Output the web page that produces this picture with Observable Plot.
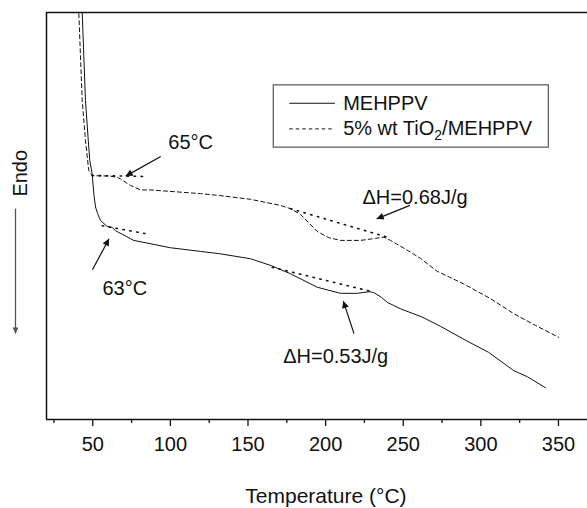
<!DOCTYPE html>
<html>
<head>
<meta charset="utf-8">
<script src="https://cdn.jsdelivr.net/npm/d3@7"></script>
<script src="https://cdn.jsdelivr.net/npm/@observablehq/plot@0.6"></script>
<style>
  html, body { margin: 0; padding: 0; background: #fff; }
  #chart svg { display: block; }
</style>
</head>
<body>
<div id="chart"></div>
<script>
// ---- Data (temperature in °C, heat flow in arbitrary units, endo down) ----
const tempMEHPPV = [41.8, 43.2, 45.3, 47.1, 48.1, 49.6, 50.8, 51.8, 53.1, 55.0, 59.3, 62.5, 64.6, 76.4, 100, 119.4, 132.3, 151.6, 165, 177.4, 194.6, 209.6, 220.3, 228, 231, 236, 239.7, 243.9, 248.2, 262, 274.0, 290, 305, 321.2, 330, 341.6];
const flowMEHPPV = [110, 100, 78.4, 68.6, 63.6, 60.4, 55.0, 52.2, 50.6, 48.9, 47.4, 47.2, 46.4, 44.0, 42.2, 41.3, 40.7, 39.5, 37.8, 35.8, 32.5, 31.0, 31.0, 31.4, 31.2, 30.0, 28.8, 28.0, 27.2, 25.2, 22.9, 19.5, 16.5, 12.0, 10.5, 7.8];

const tempTiO2 = [40.2, 41.0, 43.2, 45.3, 47.4, 49.6, 61.4, 65.7, 67.9, 74.3, 80.8, 87.2, 119.4, 132.3, 151.6, 170.9, 177.4, 183.8, 194.6, 201.9, 209.6, 222.5, 232.1, 237.5, 241.8, 250.4, 261.1, 271.9, 289.0, 306.2, 321.2, 335.2, 350.2];
const flowTiO2 = [110, 100, 78.4, 68.6, 61.2, 59.9, 59.8, 59.5, 59.1, 57.5, 56.4, 56.4, 55.5, 55.0, 54.1, 52.6, 51.8, 50.4, 46.2, 44.7, 44.0, 44.0, 44.5, 44.8, 44.0, 42.1, 39.6, 36.4, 33.3, 29.7, 26.0, 23.1, 20.2];

// tangent (baseline) construction lines
const tangentId = ["t65", "t65", "t63", "t63", "h68", "h68", "h53", "h53"];
const tangentT  = [49.6, 85.1, 56.1, 85.1, 177.4, 239.7, 165.6, 231.0];
const tangentV  = [59.95, 59.7, 47.6, 45.6, 51.8, 44.8, 37.4, 31.3];

// annotation arrows (tail -> head)
const arrowT1 = [93.8, 49.8, 254.3, 218.3];
const arrowV1 = [64.6, 36.8, 52.6, 21.1];
const arrowT2 = [71.2, 60.5, 232.9, 211.4];
const arrowV2 = [59.8, 44.4, 49.3, 29.1];

// annotation labels
const noteText = ["65°C", "63°C", "ΔH=0.68J/g", "ΔH=0.53J/g"];
const noteT = [113.1, 70.6, 257.6, 206.5];
const noteV = [68.1, 32.2, 54.6, 15.5];
const noteAnchor = ["middle", "middle", "start", "start"];

// legend
const seriesNames = ["MEHPPV", "5% wt TiO2/MEHPPV"];
const seriesDash = ["none", "3.5,3"];
const legendBoxT = [166.6, 343.8];
const legendBoxV = [66.8, 82.1];
const legendLineT = [176.9, 206.3];
const legendRowV = [77.7, 71.4];
const legendTextT = 211.3;

// axis
const majorTicks = [50, 100, 150, 200, 250, 300, 350];
const minorTicks = [25, 75, 125, 175, 225, 275, 325];
const xDomain = [20.2, 368.7];
const yDomain = [0, 100];
const xLabel = "Temperature (°C)";
const xLabelPos = [200.2, -18.8];
const yLabel = "Endo";
const yLabelPos = [3.5, 60.5];
const endoArrow = [0.23, 51.8, 0.23, 21.1];

// ---- build tables ----
const mehppv = tempMEHPPV.map((t, i) => ({t, v: flowMEHPPV[i]}));
const tio2 = tempTiO2.map((t, i) => ({t, v: flowTiO2[i]}));
const tangents = tangentT.map((t, i) => ({id: tangentId[i], t, v: tangentV[i]}));
const arrows = arrowT1.map((t1, i) => ({t1, v1: arrowV1[i], t2: arrowT2[i], v2: arrowV2[i]}));
const notes = noteText.map((s, i) => ({s, t: noteT[i], v: noteV[i], a: noteAnchor[i]}));
const legendRows = seriesNames.map((s, i) => ({s, v: legendRowV[i], dash: seriesDash[i]}));

const font = "'Liberation Sans', Arial, Helvetica, sans-serif";

const chart = Plot.plot({
  width: 587,
  height: 508,
  marginLeft: 46,
  marginRight: 0,
  marginTop: 12,
  marginBottom: 89,
  style: {fontFamily: font, fontSize: "20px", background: "#fff", color: "#111"},
  x: {domain: xDomain, label: null},
  y: {domain: yDomain, axis: null},
  marks: [
    // frame
    Plot.ruleY([yDomain[1]], {stroke: "#111", strokeWidth: 1.3}),
    Plot.ruleX([xDomain[0]], {stroke: "#111", strokeWidth: 1.5}),
    Plot.ruleY([yDomain[0]], {stroke: "#111", strokeWidth: 1.3}),
    Plot.axisX({ticks: majorTicks, tickSize: 7, tickPadding: 10, label: null, fontSize: 20, strokeWidth: 1.3, tickFormat: d => String(d)}),
    Plot.axisX({ticks: minorTicks, tickSize: 4, text: null, label: null, strokeWidth: 1.3}),
    // curves
    Plot.line(mehppv, {x: "t", y: "v", stroke: "#111", strokeWidth: 1, clip: true}),
    Plot.line(tio2, {x: "t", y: "v", stroke: "#111", strokeWidth: 1, strokeDasharray: "4,3", clip: true}),
    // tangent constructions
    Plot.line(tangents, {x: "t", y: "v", z: "id", stroke: "#111", strokeWidth: 1.6, strokeDasharray: "1.4,5.6", strokeLinecap: "round"}),
    // annotation arrows
    Plot.link(arrows, {x1: "t1", y1: "v1", x2: "t2", y2: "v2", stroke: "#111", strokeWidth: 1.2}),
    Plot.text(notes, {x: "t", y: "v", text: "s", textAnchor: "a", fontSize: 20, fill: "#111"}),
    // legend
    Plot.rect([0], {x1: legendBoxT[0], x2: legendBoxT[1], y1: legendBoxV[0], y2: legendBoxV[1], fill: "#fff", stroke: "#555", strokeWidth: 1.2}),
    Plot.ruleY(legendRows.filter(d => d.dash === "none"), {y: "v", x1: legendLineT[0], x2: legendLineT[1], stroke: "#111", strokeWidth: 1}),
    Plot.ruleY(legendRows.filter(d => d.dash !== "none"), {y: "v", x1: legendLineT[0], x2: legendLineT[1], stroke: "#111", strokeWidth: 1, strokeDasharray: "3.5,3"}),
    Plot.text(legendRows, {x: legendTextT, y: "v", text: "s", textAnchor: "start", fontSize: 20, fill: "#111"}),
    // axis titles
    Plot.text([xLabel], {x: xLabelPos[0], y: xLabelPos[1], text: d => d, fontSize: 21, fill: "#111"}),
    Plot.text([yLabel], {x: yLabelPos[0], y: yLabelPos[1], text: d => d, rotate: -90, fontSize: 20, fill: "#111"}),
    Plot.link([endoArrow], {x1: d => d[0], y1: d => d[1], x2: d => d[2], y2: d => d[3], stroke: "#555", strokeWidth: 1.3})
  ]
});

// filled arrowheads
const NS = "http://www.w3.org/2000/svg";
const defs = document.createElementNS(NS, "defs");
function addMarker(id, color, len, wid) {
  const m = document.createElementNS(NS, "marker");
  m.setAttribute("id", id);
  m.setAttribute("viewBox", "0 0 10 10");
  m.setAttribute("refX", "10");
  m.setAttribute("refY", "5");
  m.setAttribute("markerUnits", "userSpaceOnUse");
  m.setAttribute("markerWidth", len);
  m.setAttribute("markerHeight", wid);
  m.setAttribute("orient", "auto");
  const p = document.createElementNS(NS, "path");
  p.setAttribute("d", "M0,0L10,5L0,10Z");
  p.setAttribute("fill", color);
  m.appendChild(p);
  defs.appendChild(m);
}
addMarker("headBlack", "#111", 13, 7);
addMarker("headGray", "#555", 12, 6);
chart.insertBefore(defs, chart.firstChild);
const linkGroups = chart.querySelectorAll('g[aria-label="link"]');
linkGroups.forEach((g, gi) => {
  g.querySelectorAll("path").forEach(p => p.setAttribute("marker-end", gi === 0 ? "url(#headBlack)" : "url(#headGray)"));
});

// subscript in legend
chart.querySelectorAll("text").forEach(t => {
  if (t.textContent === "5% wt TiO2/MEHPPV") {
    t.innerHTML = '5% wt TiO<tspan dy="5" font-size="14">2</tspan><tspan dy="-5">/MEHPPV</tspan>';
  }
});

document.getElementById("chart").appendChild(chart);
</script>
</body>
</html>
